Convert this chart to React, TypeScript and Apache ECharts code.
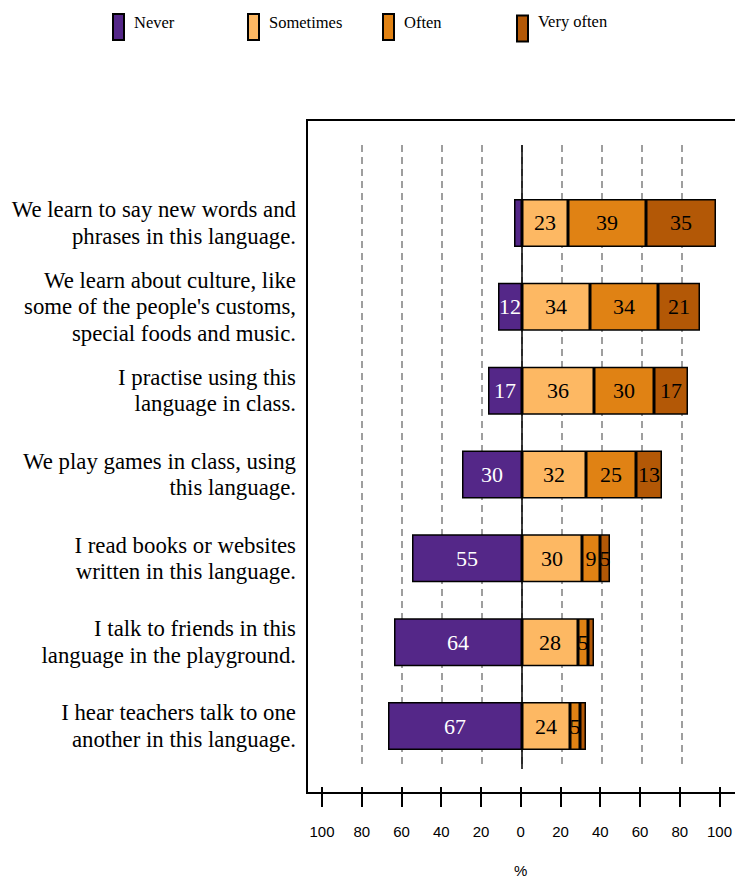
import React, { useEffect, useRef } from "react";
import * as echarts from "echarts";

const categories = [
  "We learn to say new words and\nphrases in this language.",
  "We learn about culture, like\nsome of the people's customs,\nspecial foods and music.",
  "I practise using this\nlanguage in class.",
  "We play games in class, using\nthis language.",
  "I read books or websites\nwritten in this language.",
  "I talk to friends in this\nlanguage in the playground.",
  "I hear teachers talk to one\nanother in this language.",
];
const seriesNames = ["Never", "Sometimes", "Often", "Very often"];
const never = [4, 12, 17, 30, 55, 64, 67];
const sometimes = [23, 34, 36, 32, 30, 28, 24];
const often = [39, 34, 30, 25, 9, 5, 5];
const veryOften = [35, 21, 17, 13, 5, 3, 3];
const colors = ["#542788", "#fdb863", "#e08214", "#b35806"];
const labelColors = ["#ffffff", "#000000", "#000000", "#000000"];
const legendLeft = [112, 247, 382, 516];
const legendPad = [10, 10, 10, 14];

const SERIF = "'Liberation Serif', 'Times New Roman', serif";
const SANS = "'Liberation Sans', Arial, sans-serif";

export default function App() {
  const ref = useRef<HTMLDivElement>(null);
  useEffect(() => {
    if (!ref.current) return;
    const chart = echarts.init(ref.current, null, { renderer: "svg" });
    const values = [never.map((v) => -v), sometimes, often, veryOften];
    const barSeries = seriesNames.map((name, i) => ({
      name,
      type: "bar",
      stack: "total",
      xAxisIndex: 0,
      yAxisIndex: 0,
      barWidth: 48,
      z: 3,
      data: values[i],
      itemStyle: { color: colors[i], borderColor: "#000", borderWidth: 1.5 },
      label: {
        show: true,
        position: "inside",
        formatter: (p: any) => (Math.abs(p.value) >= 5 ? String(Math.abs(p.value)) : ""),
        fontFamily: SERIF,
        fontSize: 22,
        color: labelColors[i],
      },
    }));
    const option: any = {
      animation: false,
      legend: seriesNames.map((n, i) => ({
        data: [n],
        left: legendLeft[i],
        top: 13,
        padding: 0,
        itemWidth: 11,
        itemHeight: 26,
        icon: "rect",
        selectedMode: false,
        itemStyle: { borderColor: "#000", borderWidth: 2 },
        formatter: "{t|{name}}",
        textStyle: {
          color: "#000",
          rich: {
            t: {
              fontFamily: SERIF,
              fontSize: 16.5,
              color: "#000",
              padding: [0, 0, legendPad[i], 5],
            },
          },
        },
      })),
      grid: [
        { left: 322, width: 400, top: 181, height: 587 },
        { left: 322, width: 400, top: 145, height: 624 },
        { left: 322, width: 400, top: 120, height: 673 },
      ],
      xAxis: [
        { gridIndex: 0, type: "value", min: -100, max: 100, show: false },
        {
          gridIndex: 1,
          type: "value",
          min: -100,
          max: 100,
          interval: 20,
          axisLine: { show: false },
          axisTick: { show: false },
          axisLabel: { show: false },
          splitLine: {
            show: true,
            showMinLine: false,
            showMaxLine: false,
            lineStyle: { color: "#7f7f7f", type: [7, 5], width: 1.5 },
          },
        },
        {
          gridIndex: 2,
          type: "value",
          min: -100,
          max: 100,
          interval: 20,
          position: "bottom",
          axisLine: { show: false },
          axisTick: { show: true, length: 20, lineStyle: { color: "#000", width: 2 } },
          axisLabel: {
            margin: 37,
            formatter: (v: number) => String(Math.abs(v)),
            fontFamily: SANS,
            fontSize: 15,
            color: "#000",
          },
          splitLine: { show: false },
          name: "%",
          nameLocation: "middle",
          nameGap: 76,
          nameTextStyle: { fontFamily: SANS, fontSize: 15, color: "#000" },
        },
      ],
      yAxis: [
        {
          gridIndex: 0,
          type: "category",
          data: categories,
          inverse: true,
          axisLine: { show: false },
          axisTick: { show: false },
          splitLine: { show: false },
          axisLabel: {
            margin: 26,
            fontFamily: SERIF,
            fontSize: 22.8,
            lineHeight: 26.5,
            color: "#000",
            align: "right",
          },
        },
        { gridIndex: 1, type: "value", min: 0, max: 1, show: false },
        { gridIndex: 2, type: "value", min: 0, max: 1, show: false },
      ],
      series: [
        {
          name: "rowlines",
          type: "line",
          xAxisIndex: 0,
          yAxisIndex: 0,
          data: [],
          clip: false,
          markLine: {
            silent: true,
            symbol: "none",
            z: 0,
            label: { show: false },
            lineStyle: { color: "#bdbdbd", type: "solid", width: 1.5 },
            data: categories.map((c) => [{ coord: [-105, c] }, { coord: [110, c] }]),
          },
        },
        {
          name: "zeroline",
          type: "line",
          xAxisIndex: 1,
          yAxisIndex: 1,
          data: [],
          clip: false,
          markLine: {
            silent: true,
            symbol: "none",
            z: 1,
            label: { show: false },
            lineStyle: { color: "#000", type: "solid", width: 1.5 },
            data: [{ xAxis: 0 }],
          },
        },
        ...barSeries,
      ],
      graphic: [
        {
          type: "rect",
          silent: true,
          z: 10,
          shape: { x: 307, y: 120, width: 440, height: 673 },
          style: { fill: "none", stroke: "#000", lineWidth: 2 },
        },
      ],
    };
    chart.setOption(option);
    return () => chart.dispose();
  }, []);
  return (
    <div
      ref={ref}
      style={{ position: "absolute", left: 0, top: 0, width: 735, height: 883, background: "#fff" }}
    />
  );
}
